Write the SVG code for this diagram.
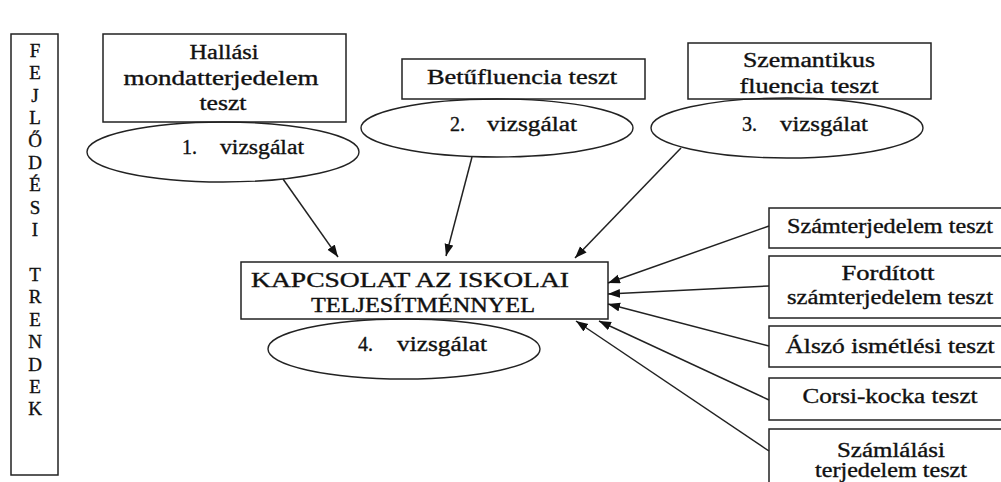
<svg xmlns="http://www.w3.org/2000/svg" width="1001" height="482" viewBox="0 0 1001 482" font-family="'Liberation Serif', 'DejaVu Serif', serif">
<style>
.box{fill:#fff;stroke:#222;stroke-width:1.5}
.ell{fill:none;stroke:#222;stroke-width:1.4}
text{font-family:"Liberation Serif","DejaVu Serif","Noto Serif",serif;font-size:20px;fill:#111;stroke:#111;stroke-width:0.35}
.c{text-anchor:middle}
.v{font-size:19px;text-anchor:middle}
.con{stroke:#222;stroke-width:1.5;fill:none;marker-end:url(#ah)}
</style>
<defs>
<marker id="ah" markerUnits="userSpaceOnUse" markerWidth="13" markerHeight="10" refX="12" refY="4.5" orient="auto">
<path d="M0,0 L12,4.5 L0,9 z" fill="#111"/>
</marker>
</defs>
<rect width="1001" height="482" fill="#fff"/>
<g id="trendek">
<rect class="box" x="11" y="34" width="47" height="441"/>
<text class="v" x="35" y="57">F</text>
<text class="v" x="35" y="79.4">E</text>
<text class="v" x="35" y="101.8">J</text>
<text class="v" x="35" y="124.2">L</text>
<text class="v" x="35" y="146.6">Ő</text>
<text class="v" x="35" y="169">D</text>
<text class="v" x="35" y="191.4">É</text>
<text class="v" x="35" y="213.8">S</text>
<text class="v" x="35" y="236.2">I</text>
<text class="v" x="35" y="281">T</text>
<text class="v" x="35" y="303.4">R</text>
<text class="v" x="35" y="325.8">E</text>
<text class="v" x="35" y="348.2">N</text>
<text class="v" x="35" y="370.6">D</text>
<text class="v" x="35" y="393">E</text>
<text class="v" x="35" y="415.4">K</text>
</g>
<g id="hallasi">
<rect class="box" x="103" y="34" width="243" height="88"/>
<text class="c" x="224" y="59" textLength="69" lengthAdjust="spacingAndGlyphs">Hallási</text>
<text class="c" x="221" y="85" textLength="195" lengthAdjust="spacingAndGlyphs">mondatterjedelem</text>
<text class="c" x="223" y="110" textLength="47" lengthAdjust="spacingAndGlyphs">teszt</text>
</g>
<g id="vizsgalat1">
<ellipse class="ell" cx="223" cy="152" rx="136" ry="30"/>
<text y="154"><tspan x="182">1.</tspan><tspan x="220" textLength="84" lengthAdjust="spacingAndGlyphs">vizsgálat</tspan></text>
</g>
<g id="betufluencia">
<rect class="box" x="402" y="59" width="243" height="40"/>
<text class="c" x="522" y="84" textLength="190" lengthAdjust="spacingAndGlyphs">Betűfluencia teszt</text>
</g>
<g id="vizsgalat2">
<ellipse class="ell" cx="497" cy="128" rx="136" ry="29"/>
<text y="131"><tspan x="450">2.</tspan><tspan x="487" textLength="90" lengthAdjust="spacingAndGlyphs">vizsgálat</tspan></text>
</g>
<g id="szemantikus">
<rect class="box" x="688" y="43" width="243" height="56"/>
<text class="c" x="809" y="67" textLength="132" lengthAdjust="spacingAndGlyphs">Szemantikus</text>
<text class="c" x="809" y="93" textLength="139" lengthAdjust="spacingAndGlyphs">fluencia teszt</text>
</g>
<g id="vizsgalat3">
<ellipse class="ell" cx="787" cy="128" rx="136" ry="30"/>
<text y="131"><tspan x="742">3.</tspan><tspan x="780" textLength="88" lengthAdjust="spacingAndGlyphs">vizsgálat</tspan></text>
</g>
<g id="kapcsolat">
<rect class="box" x="241" y="262" width="367" height="57"/>
<text x="251" y="287" textLength="318" lengthAdjust="spacingAndGlyphs">KAPCSOLAT AZ ISKOLAI</text>
<text x="311" y="312" textLength="224" lengthAdjust="spacingAndGlyphs">TELJESÍTMÉNNYEL</text>
</g>
<g id="vizsgalat4">
<ellipse class="ell" cx="404" cy="349" rx="136" ry="30"/>
<text y="351"><tspan x="358">4.</tspan><tspan x="397" textLength="90" lengthAdjust="spacingAndGlyphs">vizsgálat</tspan></text>
</g>
<g id="szamterjedelem">
<rect class="box" x="769" y="208" width="245" height="40"/>
<text class="c" x="890" y="233" textLength="206" lengthAdjust="spacingAndGlyphs">Számterjedelem teszt</text>
</g>
<g id="forditott">
<rect class="box" x="769" y="256" width="245" height="62"/>
<text class="c" x="888" y="280" textLength="93" lengthAdjust="spacingAndGlyphs">Fordított</text>
<text class="c" x="890" y="304" textLength="206" lengthAdjust="spacingAndGlyphs">számterjedelem teszt</text>
</g>
<g id="alszo">
<rect class="box" x="769" y="326" width="245" height="41"/>
<text class="c" x="890" y="353" textLength="209" lengthAdjust="spacingAndGlyphs">Álszó ismétlési teszt</text>
</g>
<g id="corsi">
<rect class="box" x="769" y="378" width="245" height="42"/>
<text class="c" x="890" y="403" textLength="175" lengthAdjust="spacingAndGlyphs">Corsi-kocka teszt</text>
</g>
<g id="szamlalasi">
<rect class="box" x="769" y="429" width="245" height="70"/>
<text class="c" x="891" y="457" textLength="108" lengthAdjust="spacingAndGlyphs">Számlálási</text>
<text class="c" x="891" y="477" textLength="152" lengthAdjust="spacingAndGlyphs">terjedelem teszt</text>
</g>
<g id="connectors">
<line class="con" x1="283" y1="179" x2="338" y2="257"/>
<line class="con" x1="472" y1="157" x2="446" y2="256"/>
<line class="con" x1="681" y1="148" x2="575" y2="258"/>
<line class="con" x1="769" y1="226" x2="608" y2="283"/>
<line class="con" x1="769" y1="286" x2="608" y2="294"/>
<line class="con" x1="769" y1="346" x2="608" y2="304"/>
<line class="con" x1="769" y1="400" x2="599" y2="321"/>
<line class="con" x1="769" y1="451" x2="576" y2="321"/>
</g>
</svg>
